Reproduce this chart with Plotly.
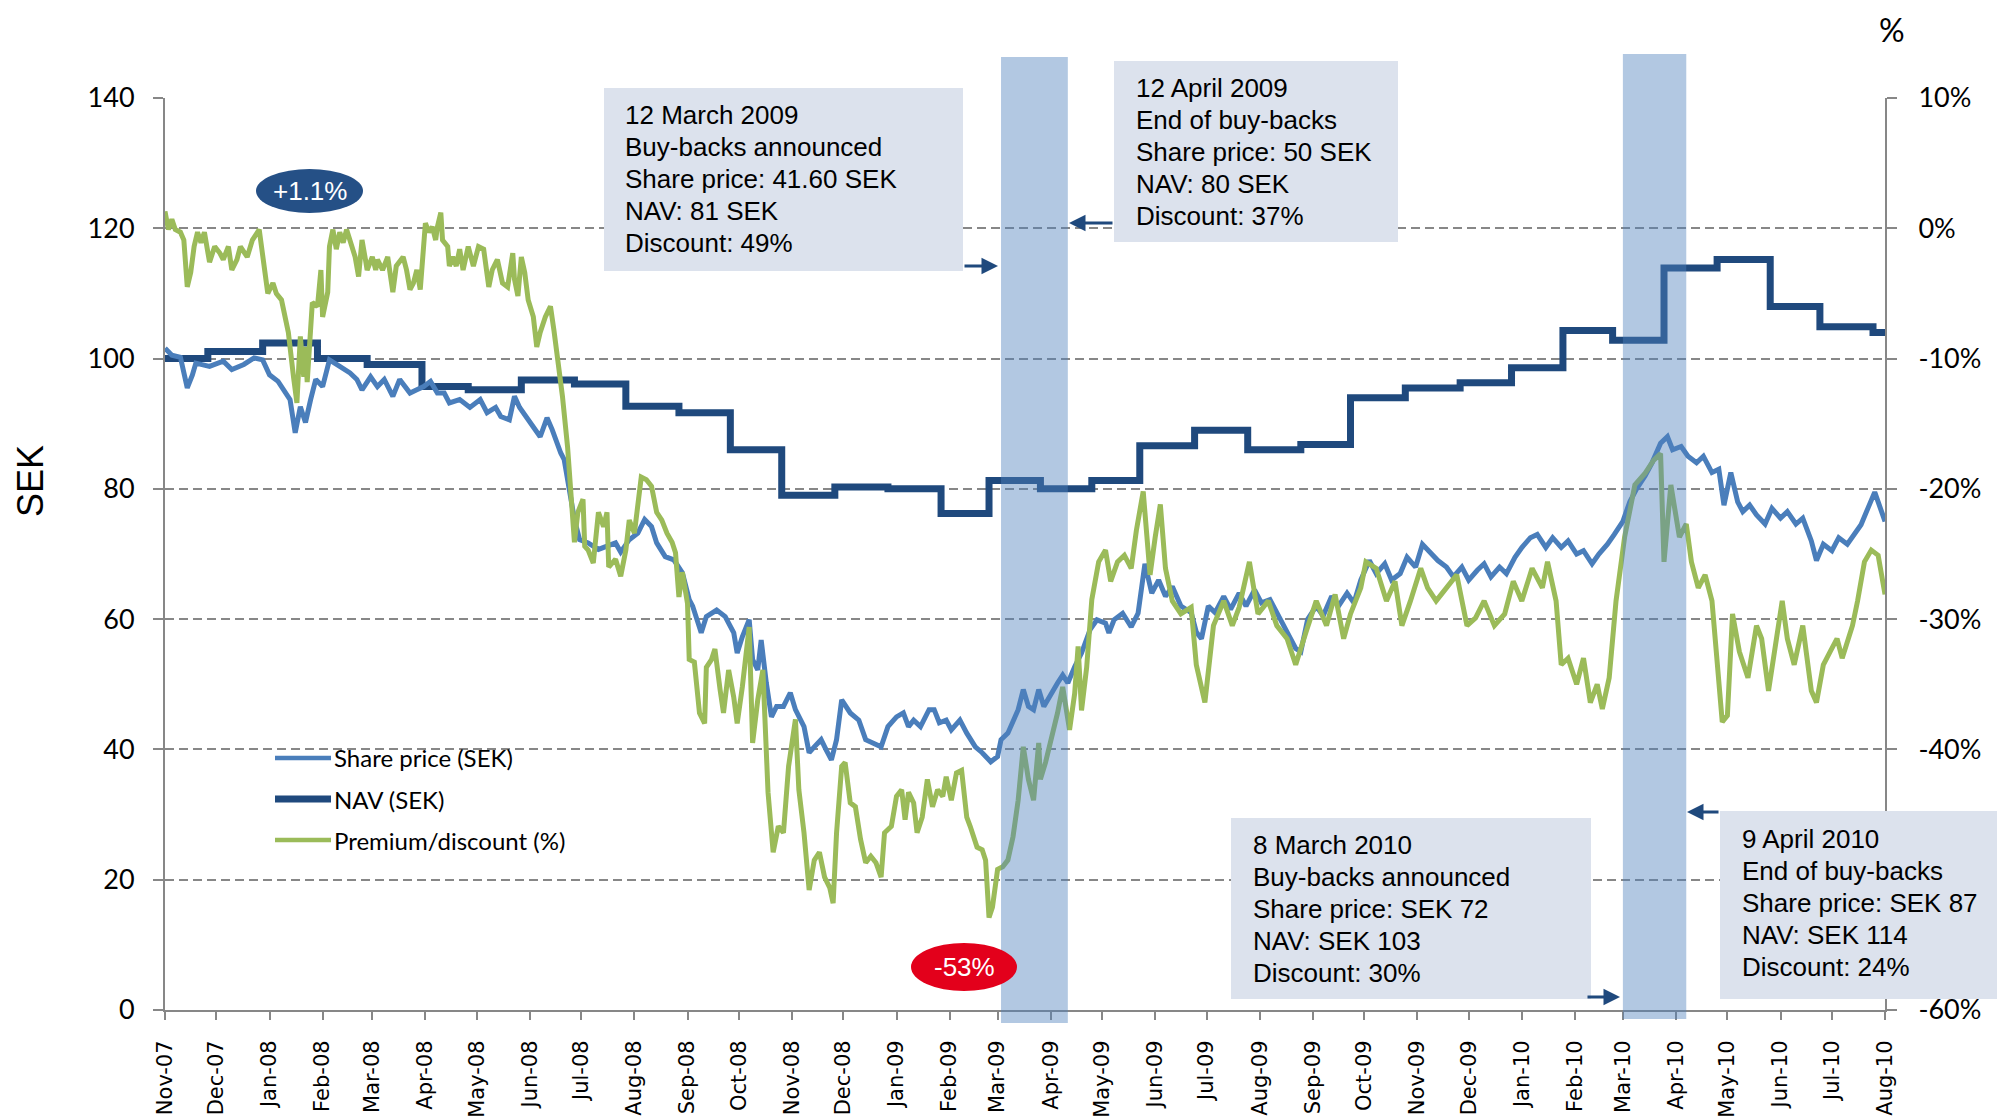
import plotly.graph_objects as go
import pandas as pd

# ---------------- DATA ----------------
# x positions are days since 2007-11-01
START_DATE = "2007-11-01"
END_DATE = "2010-08-01"

share_price_points = [
    (0, 101.6), (4, 100.5), (9, 100.2), (13, 95.5), (16, 97.5), (18, 99.3), (26, 98.8), (34, 99.6),
    (39, 98.3), (46, 99.1), (52, 100.1), (57, 99.8), (61, 97.5), (66, 96.5), (73, 93.7), (76, 88.6),
    (79, 92.6), (82, 90.2), (85, 93.7), (88, 96.8), (92, 95.7), (96, 99.8), (102, 98.8), (108, 97.8),
    (112, 96.8), (115, 95.2), (120, 97.2), (124, 95.7), (128, 96.8), (133, 94.2), (137, 96.8), (143, 94.7),
    (147, 95.2), (151, 95.7), (155, 96.5), (159, 94.7), (163, 94.7), (166, 93.2), (172, 93.7), (178, 92.5),
    (184, 93.7), (188, 91.7), (193, 92.5), (196, 91.1), (201, 90.6), (204, 94.2), (207, 92.5), (211, 91.1),
    (215, 89.6), (219, 88.0), (223, 90.9), (226, 89.1), (231, 85.5), (233, 84.5), (236, 79.9), (239, 75.3),
    (242, 72.2), (247, 71.7), (253, 70.7), (258, 71.1), (263, 71.7), (266, 70.3), (271, 72.2), (276, 73.2),
    (280, 75.3), (284, 74.2), (287, 71.7), (292, 69.6), (297, 69.1), (302, 67.1), (306, 63.0), (308, 62.0),
    (313, 57.9), (316, 60.4), (322, 61.4), (327, 60.4), (332, 57.9), (334, 54.8), (337, 57.3), (341, 59.9),
    (343, 53.8), (346, 52.2), (348, 56.8), (351, 50.2), (354, 45.0), (357, 46.6), (361, 46.6), (365, 48.7),
    (368, 46.1), (373, 43.5), (376, 39.5), (379, 40.4), (383, 41.5), (386, 39.9), (389, 38.4), (392, 41.5),
    (395, 47.6), (400, 45.6), (405, 44.5), (409, 41.5), (413, 41.0), (418, 40.4), (422, 43.5), (427, 45.0),
    (431, 45.6), (434, 43.5), (437, 44.5), (441, 43.5), (446, 46.1), (449, 46.1), (452, 44.1), (456, 44.5),
    (459, 43.0), (464, 44.5), (468, 42.5), (473, 40.4), (477, 39.5), (482, 38.1), (486, 38.9), (488, 41.5),
    (492, 42.5), (495, 44.1), (498, 46.1), (501, 49.2), (504, 46.6), (507, 46.1), (510, 49.2), (513, 46.6),
    (516, 48.1), (521, 50.2), (524, 51.4), (527, 50.2), (531, 52.7), (535, 54.8), (540, 58.4), (544, 59.9),
    (549, 59.4), (551, 57.9), (554, 59.9), (559, 60.9), (564, 58.8), (568, 60.9), (572, 68.5), (576, 64.0),
    (580, 66.0), (584, 63.5), (588, 65.0), (593, 62.0), (599, 61.0), (602, 58.0), (605, 57.0), (609, 62.0),
    (613, 61.0), (618, 63.5), (622, 61.5), (627, 64.0), (631, 62.0), (636, 64.5), (640, 62.5), (645, 63.0),
    (651, 60.0), (655, 58.0), (660, 55.5), (663, 55.0), (667, 60.0), (672, 62.0), (676, 60.5), (681, 63.5),
    (685, 62.0), (690, 64.0), (694, 62.5), (698, 66.0), (703, 69.0), (707, 67.0), (712, 68.5), (716, 66.0),
    (721, 67.0), (725, 69.5), (730, 68.0), (734, 71.5), (739, 70.0), (743, 69.0), (748, 68.0), (752, 66.5),
    (757, 68.0), (761, 66.0), (766, 67.5), (770, 68.5), (774, 66.5), (779, 68.0), (783, 67.0), (788, 69.5),
    (792, 71.0), (797, 72.5), (801, 73.0), (806, 71.0), (810, 72.5), (815, 71.0), (819, 72.0), (824, 70.0),
    (828, 70.5), (833, 68.5), (837, 70.0), (842, 71.5), (846, 73.0), (851, 75.0), (855, 78.0), (859, 80.0),
    (864, 82.0), (868, 84.0), (873, 87.0), (877, 88.0), (880, 86.0), (885, 86.5), (889, 85.0), (894, 84.0),
    (898, 85.0), (903, 82.5), (907, 83.0), (910, 77.5), (914, 82.5), (918, 78.0), (921, 76.5), (925, 77.5),
    (929, 76.0), (934, 74.6), (938, 77.0), (943, 75.5), (947, 76.5), (952, 74.6), (956, 75.5), (961, 72.0),
    (964, 69.0), (968, 71.5), (973, 70.5), (977, 72.5), (982, 71.5), (986, 73.0), (990, 74.5), (994, 77.0),
    (998, 79.5), (1000, 78.0), (1004, 75.0),
]

nav_points = [
    (0, 100.0), (25, 101.1), (57, 102.4), (89, 100.0), (118, 99.1), (150, 95.7), (177, 95.2), (208, 96.7),
    (239, 96.1), (269, 92.7), (300, 91.7), (330, 86.0), (360, 79.0), (391, 80.3), (422, 80.0), (453, 76.2),
    (481, 81.3), (511, 80.0), (541, 81.3), (569, 86.6), (601, 89.0), (632, 86.0), (663, 86.8), (692, 94.0),
    (724, 95.5), (756, 96.3), (786, 98.6), (816, 104.3), (845, 102.8), (875, 113.9), (906, 115.2), (937, 108.0),
    (966, 104.9), (997, 104.0), (1004, 104.0),
]

premium_points = [
    (0, 1.3), (2, -0.1), (4, 0.7), (6, -0.1), (9, -0.3), (11, -0.9), (13, -4.5), (15, -3.4), (17, -1.4),
    (19, -0.3), (21, -1.1), (23, -0.3), (26, -2.6), (29, -1.4), (32, -1.9), (34, -2.4), (37, -1.4), (39, -3.2),
    (42, -2.4), (44, -1.4), (48, -2.2), (51, -0.9), (55, -0.1), (57, -2.2), (60, -5.0), (63, -4.2), (65, -5.0),
    (68, -5.5), (72, -8.0), (75, -11.4), (77, -13.4), (79, -8.3), (81, -11.4), (82, -9.1), (83, -11.8),
    (86, -5.7), (89, -6.0), (91, -3.2), (92, -6.8), (95, -4.9), (96, -1.4), (98, -0.1), (100, -1.6),
    (102, -0.3), (104, -1.1), (106, -0.1), (108, -0.9), (111, -2.2), (113, -3.7), (115, -0.9), (117, -2.4),
    (118, -3.2), (121, -2.2), (123, -3.2), (124, -2.4), (127, -3.2), (130, -2.2), (131, -3.2), (133, -4.9),
    (135, -2.9), (137, -2.6), (139, -2.2), (141, -3.2), (143, -4.7), (145, -4.2), (147, -3.2), (149, -4.7),
    (151, -1.1), (152, 0.4), (154, -0.3), (156, 0.1), (158, -0.9), (159, 0.1), (161, 1.2), (162, -0.9),
    (165, -1.4), (166, -2.9), (168, -2.2), (170, -2.9), (172, -1.6), (174, -3.2), (177, -1.4), (180, -2.9),
    (183, -1.4), (186, -1.6), (189, -4.5), (191, -3.2), (194, -2.4), (197, -4.2), (200, -4.5), (203, -1.9),
    (204, -3.9), (206, -5.2), (208, -2.2), (210, -3.4), (212, -5.5), (215, -6.8), (217, -9.1), (219, -8.0),
    (222, -6.8), (225, -6.0), (227, -7.8), (229, -9.8), (232, -12.9), (235, -16.8), (237, -20.6), (239, -24.1),
    (241, -21.8), (244, -20.8), (245, -24.4), (247, -24.7), (250, -25.7), (253, -21.8), (256, -22.9),
    (258, -21.8), (259, -26.0), (263, -25.4), (266, -26.7), (269, -24.7), (271, -22.4), (274, -23.4),
    (278, -19.1), (281, -19.3), (284, -19.8), (287, -21.8), (290, -22.4), (293, -23.4), (296, -24.1),
    (298, -24.9), (300, -28.3), (302, -26.4), (305, -28.8), (306, -33.1), (309, -33.3), (312, -37.2),
    (315, -38.0), (316, -33.7), (319, -33.1), (321, -32.3), (324, -35.4), (326, -37.2), (329, -33.9),
    (332, -36.0), (334, -38.0), (337, -35.2), (341, -30.6), (343, -39.5), (346, -36.2), (349, -33.9),
    (352, -43.3), (355, -47.9), (358, -45.9), (361, -46.4), (364, -41.3), (367, -38.7), (368, -37.7),
    (370, -43.1), (373, -46.4), (376, -50.8), (379, -48.5), (382, -47.9), (385, -49.8), (388, -50.6),
    (390, -51.8), (392, -46.4), (395, -41.3), (397, -41.0), (400, -44.1), (403, -44.4), (406, -46.9),
    (409, -48.7), (412, -48.2), (415, -48.7), (418, -49.8), (420, -46.4), (424, -45.9), (427, -43.6),
    (430, -43.1), (432, -45.4), (434, -43.3), (437, -44.1), (439, -46.4), (442, -45.2), (445, -42.3),
    (448, -44.4), (451, -43.1), (454, -43.6), (456, -42.1), (459, -43.9), (462, -41.8), (465, -41.6),
    (468, -45.2), (470, -45.9), (474, -47.5), (477, -47.7), (479, -48.5), (481, -52.9), (483, -52.1),
    (486, -49.2), (489, -49.0), (492, -48.5), (495, -46.7), (498, -43.9), (501, -39.8), (504, -42.3),
    (507, -43.9), (510, -39.5), (511, -42.3), (514, -41.0), (518, -39.0), (521, -37.2), (524, -35.2),
    (527, -37.5), (528, -38.5), (531, -35.7), (533, -32.1), (535, -37.0), (538, -33.7), (541, -28.5),
    (545, -25.6), (549, -24.7), (552, -27.1), (556, -25.6), (560, -25.1), (564, -26.1), (567, -23.2),
    (571, -20.2), (575, -26.6), (578, -23.7), (581, -21.2), (584, -26.1), (588, -28.6), (593, -29.6),
    (599, -29.1), (602, -33.5), (607, -36.4), (612, -30.5), (618, -28.6), (623, -30.5), (627, -29.1),
    (633, -25.6), (638, -29.6), (644, -28.6), (649, -30.5), (655, -31.5), (660, -33.5), (666, -31.0),
    (672, -28.6), (678, -30.5), (683, -28.1), (688, -31.5), (692, -29.6), (698, -27.6), (701, -25.6),
    (707, -26.1), (713, -28.6), (718, -27.1), (722, -30.5), (727, -28.6), (733, -26.1), (737, -27.6),
    (742, -28.6), (748, -27.6), (754, -26.6), (760, -30.5), (765, -29.9), (770, -28.6), (776, -30.5),
    (782, -29.6), (787, -27.1), (792, -28.6), (798, -26.1), (804, -27.6), (807, -25.6), (812, -28.6),
    (815, -33.5), (819, -33.0), (824, -35.0), (828, -33.0), (832, -36.4), (836, -35.0), (839, -36.9),
    (843, -34.5), (847, -28.6), (852, -23.7), (858, -19.7), (864, -18.8), (869, -17.8), (873, -17.3),
    (875, -25.6), (879, -19.7), (884, -23.7), (888, -22.7), (891, -25.6), (895, -27.6), (899, -26.6),
    (903, -28.6), (906, -33.5), (909, -37.9), (912, -37.4), (915, -29.6), (919, -32.5), (924, -34.5),
    (929, -30.5), (932, -31.5), (936, -35.5), (940, -32.0), (944, -28.6), (947, -31.5), (951, -33.5),
    (956, -30.5), (961, -35.5), (964, -36.4), (968, -33.5), (972, -32.5), (976, -31.5), (979, -33.0),
    (985, -30.5), (988, -28.6), (992, -25.6), (996, -24.7), (1000, -25.1), (1004, -28.1),
]

# buy-back periods (shaded bands)
band_starts = ["2009-03-03", "2010-03-01"]
band_ends = ["2009-04-11", "2010-04-07"]

sek_ticks = [0, 20, 40, 60, 80, 100, 120, 140]
pct_ticks = [-60, -50, -40, -30, -20, -10, 0, 10]
# the -50% label is hidden behind the "9 April 2010" box in the original
pct_tick_labels = ["-60%", "", "-40%", "-30%", "-20%", "-10%", "0%", "10%"]

series_names = ["Share price (SEK)", "NAV (SEK)", "Premium/discount (%)"]

box_lines = [
    ["12 March 2009", "Buy-backs announced", "Share price: 41.60 SEK", "NAV: 81 SEK", "Discount: 49%"],
    ["12 April 2009", "End of buy-backs", "Share price: 50 SEK", "NAV: 80 SEK", "Discount: 37%"],
    ["8 March 2010", "Buy-backs announced", "Share price: SEK 72", "NAV: SEK 103", "Discount: 30%"],
    ["9 April 2010", "End of buy-backs", "Share price: SEK 87", "NAV: SEK 114", "Discount: 24%"],
]
bubble_texts = ["+1.1%", "-53%"]

# ---------------- STYLE / LAYOUT ----------------
C_PRICE = "#4A7EBB"
C_NAV = "#1F497D"
C_PREM = "#9BBB59"
C_GRID = "#878787"
C_BOX = "rgb(220,226,237)"
C_BAND = "rgba(79,129,189,0.44)"
F_ARIAL = "Liberation Sans, Arial"

W, H = 2005, 1117
PAGE_OFF = 8                      # default body margin of the html page
X0, X1, Y0, Y1 = 165, 1885, 98, 1010   # wanted plot area on screen
L = X0 - PAGE_OFF
T = Y0 - PAGE_OFF
R = W - (X1 - PAGE_OFF)
B = H - (Y1 - PAGE_OFF)
PW, PH = X1 - X0, Y1 - Y0


def px(x):
    return (x - X0) / PW


def py(y):
    return (Y1 - y) / PH


base = pd.Timestamp(START_DATE)


def to_dates(days):
    return [base + pd.Timedelta(days=int(d)) for d in days]


sp_days, sp_vals = zip(*share_price_points)
nav_days, nav_vals = zip(*nav_points)
pr_days, pr_vals = zip(*premium_points)

fig = go.Figure()
fig.add_trace(go.Scatter(x=to_dates(nav_days), y=list(nav_vals), mode="lines", line_shape="hv",
                         line=dict(color=C_NAV, width=7), name=series_names[1], showlegend=False))
fig.add_trace(go.Scatter(x=to_dates(sp_days), y=list(sp_vals), mode="lines",
                         line=dict(color=C_PRICE, width=5), name=series_names[0], showlegend=False))
fig.add_trace(go.Scatter(x=to_dates(pr_days), y=list(pr_vals), mode="lines", yaxis="y2",
                         line=dict(color=C_PREM, width=5), name=series_names[2], showlegend=False))

shapes = []
band_px = [(57, 1023), (54, 1019)]
for (s, e), (ytop, ybot) in zip(zip(band_starts, band_ends), band_px):
    shapes.append(dict(type="rect", xref="x", yref="paper", x0=s, x1=e, y0=py(ybot), y1=py(ytop),
                       fillcolor=C_BAND, line=dict(width=0), layer="above"))

box_px = [(604, 88, 963, 271), (1114, 61, 1398, 242), (1231, 818, 1591, 999), (1720, 811, 2010, 999)]
for (x0, y0, x1, y1) in box_px:
    shapes.append(dict(type="rect", xref="paper", yref="paper", x0=px(x0), x1=px(x1), y0=py(y1), y1=py(y0),
                       fillcolor=C_BOX, line=dict(width=0), layer="above"))

ell_px = [(256, 169, 363, 213, "#255086"), (911, 943, 1017, 991, "#E3001B")]
for (x0, y0, x1, y1, c) in ell_px:
    shapes.append(dict(type="circle", xref="paper", yref="paper", x0=px(x0), x1=px(x1), y0=py(y1), y1=py(y0),
                       fillcolor=c, line=dict(width=0), layer="above"))

# custom legend lines
leg_y = [758, 799, 840]
leg_cols = [C_PRICE, C_NAV, C_PREM]
leg_w = [4.5, 7, 4.5]
for yy, c, w in zip(leg_y, leg_cols, leg_w):
    shapes.append(dict(type="line", xref="paper", yref="paper", x0=px(275), x1=px(331), y0=py(yy), y1=py(yy),
                       line=dict(color=c, width=w), layer="above"))

annotations = []
# text left x and centre y of first line for each box; lines 32 px apart
text_pos = [(624, 115), (1135, 88), (1252, 845), (1741, 839)]
for (tx, ty), lines in zip(text_pos, box_lines):
    for i, t in enumerate(lines):
        annotations.append(dict(xref="paper", yref="paper", x=px(tx), y=py(ty + 32 * i), xanchor="left",
                                yanchor="middle", text=t, showarrow=False, align="left", borderpad=0,
                                font=dict(family=F_ARIAL, size=26, color="black")))

for (x0, y0, x1, y1, c), t in zip(ell_px, bubble_texts):
    annotations.append(dict(xref="paper", yref="paper", x=px((x0 + x1) / 2), y=py((y0 + y1) / 2),
                            xanchor="center", yanchor="middle", text=t, showarrow=False,
                            font=dict(family=F_ARIAL, size=26, color="white")))

for yy, t in zip(leg_y, series_names):
    annotations.append(dict(xref="paper", yref="paper", x=px(332), y=py(yy), xanchor="left", yanchor="middle",
                            text=t, showarrow=False, font=dict(family="Lato", size=24, color="black")))

# arrows: (head x, head y, tail offset x)
arrows = [(998, 266, -35), (1069, 223, 45), (1620, 997, -34), (1687, 812, 33)]
for hx, hy, ax in arrows:
    annotations.append(dict(xref="paper", yref="paper", x=px(hx), y=py(hy), ax=ax, ay=0, axref="pixel",
                            ayref="pixel", text="", showarrow=True, arrowhead=2, arrowsize=1.1,
                            arrowwidth=3, arrowcolor=C_NAV, standoff=0, startstandoff=0))

annotations.append(dict(xref="paper", yref="paper", x=px(31), y=py(481), text="SEK", textangle=-90,
                        showarrow=False, xanchor="center", yanchor="middle",
                        font=dict(family=F_ARIAL, size=36, color="black")))
annotations.append(dict(xref="paper", yref="paper", x=px(1892), y=py(PAGE_OFF + 1), text="%",
                        showarrow=False, xanchor="center", yanchor="top", borderpad=0,
                        font=dict(family="Lato", size=32, color="black")))

month_ticks = pd.date_range(START_DATE, END_DATE, freq="MS")

fig.update_layout(
    width=W, height=H, margin=dict(l=L, r=R, t=T, b=B, pad=0, autoexpand=False),
    paper_bgcolor="white", plot_bgcolor="white",
    shapes=shapes, annotations=annotations, showlegend=False,
    xaxis=dict(type="date", range=[START_DATE, END_DATE], tickvals=list(month_ticks), tickformat="%b-%y",
               tickangle=-90, ticks="outside", ticklen=8, tickwidth=2, tickcolor=C_GRID,
               showline=True, linecolor=C_GRID, linewidth=2, showgrid=False, zeroline=False,
               ticklabelstandoff=12, automargin=False,
               tickfont=dict(family="DejaVu Sans", size=21, color="black")),
    yaxis=dict(range=[0, 140], tickvals=sek_ticks, ticks="outside", ticklen=10, tickwidth=2, tickcolor=C_GRID,
               showline=True, linecolor=C_GRID, linewidth=2, showgrid=True, gridcolor=C_GRID, gridwidth=2,
               griddash="9px,5px", zeroline=False, ticklabelstandoff=13, automargin=False,
               tickfont=dict(family="Lato", size=27, color="black")),
    yaxis2=dict(range=[-60, 10], overlaying="y", side="right", tickvals=pct_ticks, ticktext=pct_tick_labels,
                ticks="outside", ticklen=10, tickwidth=2, tickcolor=C_GRID, showline=True, linecolor=C_GRID,
                linewidth=2, showgrid=False, zeroline=False, ticklabelstandoff=16, automargin=False,
                tickfont=dict(family="Lato", size=27, color="black")),
)

fig.write_html("out.html")
